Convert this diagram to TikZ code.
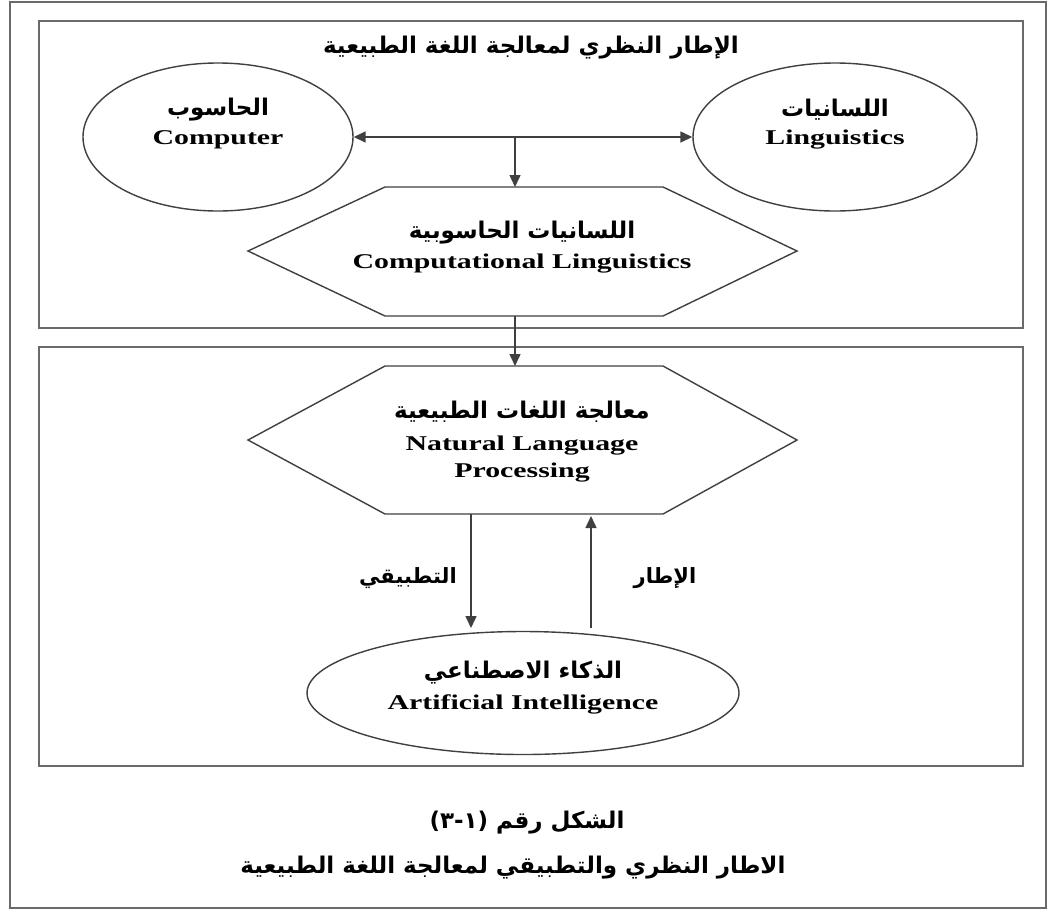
\documentclass[tikz,border=0pt]{standalone}
\usepackage{fontspec}
\setmainfont{Liberation Serif}[FakeStretch=1.42]
\newfontfamily\arabicfont[Script=Arabic]{DejaVu Sans}
\TeXXeTstate=1
\usetikzlibrary{arrows.meta,shapes.geometric}
\newcommand\artxt[1]{{\arabicfont\bfseries\beginR #1\endR}}
\definecolor{framecol}{HTML}{6A6A6A}
\definecolor{linecol}{HTML}{404040}
\tikzset{
  frame/.style={draw=framecol, line width=2pt},
  shapeline/.style={draw=linecol, line width=1.4pt},
  ell/.style={ellipse, shapeline, inner sep=0pt},
  arr/.style={draw=linecol, line width=1.5pt, -{Triangle[length=12pt,width=11pt]}},
  lbl/.style={inner sep=0pt, font=\fontsize{21}{27}\selectfont\bfseries, align=center},
  albl/.style={inner sep=0pt, font=\fontsize{23}{28}\selectfont},
  slbl/.style={inner sep=0pt, font=\fontsize{21}{26}\selectfont},
}
\begin{document}
\begin{tikzpicture}[x=1pt,y=-1pt]
\useasboundingbox (0,0) rectangle (1048,911);
\fill[white] (0,0) rectangle (1048,911);
% frames
\draw[frame] (10,2) rectangle (1046,908);
\draw[frame] (39,21) rectangle (1023,328);
\draw[frame] (39,347) rectangle (1023,766);
% title
\node[albl] (title) at (531,48) {\artxt{الإطار النظري لمعالجة اللغة الطبيعية}};
% ellipses
\node[ell, minimum width=270pt, minimum height=148pt] (comp) at (218,137) {};
\node[ell, minimum width=284pt, minimum height=148pt] (ling) at (835,137) {};
\node[albl] (compA) at (218,110) {\artxt{الحاسوب}};
\node[lbl] (compE) at (218,140) {Computer};
\node[albl] (lingA) at (835,110) {\artxt{اللسانيات}};
\node[lbl] (lingE) at (835,140) {Linguistics};
% CL hexagon
\draw[shapeline] (385,187) -- (663,187) -- (797,251) -- (663,316) -- (385,316) -- (248,251) -- cycle;
\coordinate (clT) at (515,187);
\coordinate (clB) at (515,316);
\node[albl] (clA) at (522,233) {\artxt{اللسانيات الحاسوبية}};
\node[lbl] (clE) at (522,264) {Computational Linguistics};
% arrows top
\coordinate (mid) at (515,137);
\draw[draw=linecol, line width=1.5pt, {Triangle[length=12pt,width=11pt]}-{Triangle[length=12pt,width=11pt]}] (comp.east) -- (ling.west);
\draw[arr] (mid) -- (clT);
% NLP hexagon
\draw[shapeline] (385,366) -- (663,366) -- (797,440) -- (663,514) -- (385,514) -- (248,440) -- cycle;
\coordinate (nlpT) at (515,366);
\node[albl] (nlpA) at (522,412) {\artxt{معالجة اللغات الطبيعية}};
\node[lbl] (nlpE) at (522,459) {Natural Language\\Processing};
\draw[arr] (clB) -- (nlpT);
% AI ellipse
\node[ell, minimum width=432pt, minimum height=123pt] (ai) at (523,693) {};
\node[albl] (aiA) at (523,673) {\artxt{الذكاء الاصطناعي}};
\node[lbl] (aiE) at (523,704) {Artificial Intelligence};
% NLP <-> AI arrows
\coordinate (nlpBl) at (471,514);
\coordinate (aiTl) at (471,628);
\coordinate (aiTr) at (591,628);
\coordinate (nlpBr) at (591,516);
\draw[arr] (nlpBl) -- (aiTl);
\draw[arr] (aiTr) -- (nlpBr);
\node[slbl] (apply) at (408,578) {\artxt{التطبيقي}};
\node[slbl] (theory) at (665,578) {\artxt{الإطار}};
% caption
\node[albl] (cap1) at (527,823) {\artxt{الشكل رقم (١-٣)}};
\node[albl] (cap2) at (513,868) {\artxt{الاطار النظري والتطبيقي لمعالجة اللغة الطبيعية}};
\end{tikzpicture}
\end{document}
